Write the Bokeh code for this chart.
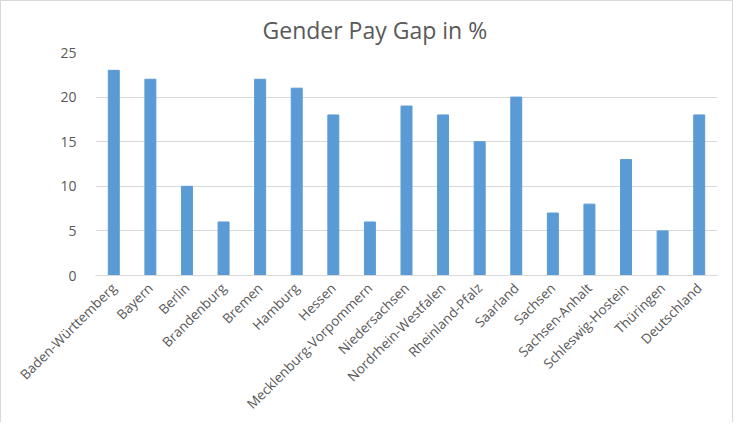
import math
from bokeh.plotting import figure
from bokeh.models import ColumnDataSource, FactorRange, Range1d, SingleIntervalTicker
from bokeh.embed import file_html
from bokeh.resources import INLINE

states = ["Baden-Württemberg", "Bayern", "Berlin", "Brandenburg", "Bremen", "Hamburg",
          "Hessen", "Mecklenburg-Vorpommern", "Niedersachsen", "Nordrhein-Westfalen",
          "Rheinland-Pfalz", "Saarland", "Sachsen", "Sachsen-Anhalt", "Schleswig-Hostein",
          "Thüringen", "Deutschland"]
gap = [23, 22, 10, 6, 22, 21, 18, 6, 19, 18, 15, 20, 7, 8, 13, 5, 18]
title_text = "Gender Pay Gap in %"

src = ColumnDataSource(dict(state=states, gap=gap))

p = figure(x_range=FactorRange(factors=states, range_padding=0), y_range=Range1d(0, 25),
           width=733, height=422, output_backend="svg", toolbar_location=None,
           min_border_left=94, min_border_right=17, min_border_top=51, min_border_bottom=148)
p.styles = {"border-top": "1px solid #d9d9d9", "border-left": "1px solid #d9d9d9",
            "border-right": "1px solid #d9d9d9"}
p.outline_line_color = None
p.background_fill_color = "white"
p.border_fill_color = "white"

p.vbar(x="state", top="gap", width=0.3, source=src, color="#5B9BD5")

font = "Open Sans"
p.title.text = title_text
p.title.align = "left"
p.title.offset = 167
p.title.text_font = font
p.title.text_font_size = "23px"
p.title.text_font_style = "normal"
p.title.text_color = "#595959"
p.title.standoff = 14

p.yaxis.ticker = SingleIntervalTicker(interval=5)
p.yaxis.axis_line_color = None
p.yaxis.major_tick_line_color = None
p.yaxis.minor_tick_line_color = None
p.yaxis.major_label_text_font = font
p.yaxis.major_label_text_font_size = "14px"
p.yaxis.major_label_text_color = "#595959"
p.yaxis.major_label_standoff = 13

p.xaxis.axis_line_color = "#d9d9d9"
p.xaxis.major_tick_line_color = None
p.xaxis.minor_tick_line_color = None
p.xaxis.major_label_orientation = math.pi / 4
p.xaxis.major_label_text_font = font
p.xaxis.major_label_text_font_size = "13.5px"
p.xaxis.major_label_text_color = "#595959"
p.xaxis.major_label_standoff = 4

p.xgrid.grid_line_color = None
p.ygrid.grid_line_color = "#d9d9d9"

open("out.html", "w").write(file_html(p, INLINE))
